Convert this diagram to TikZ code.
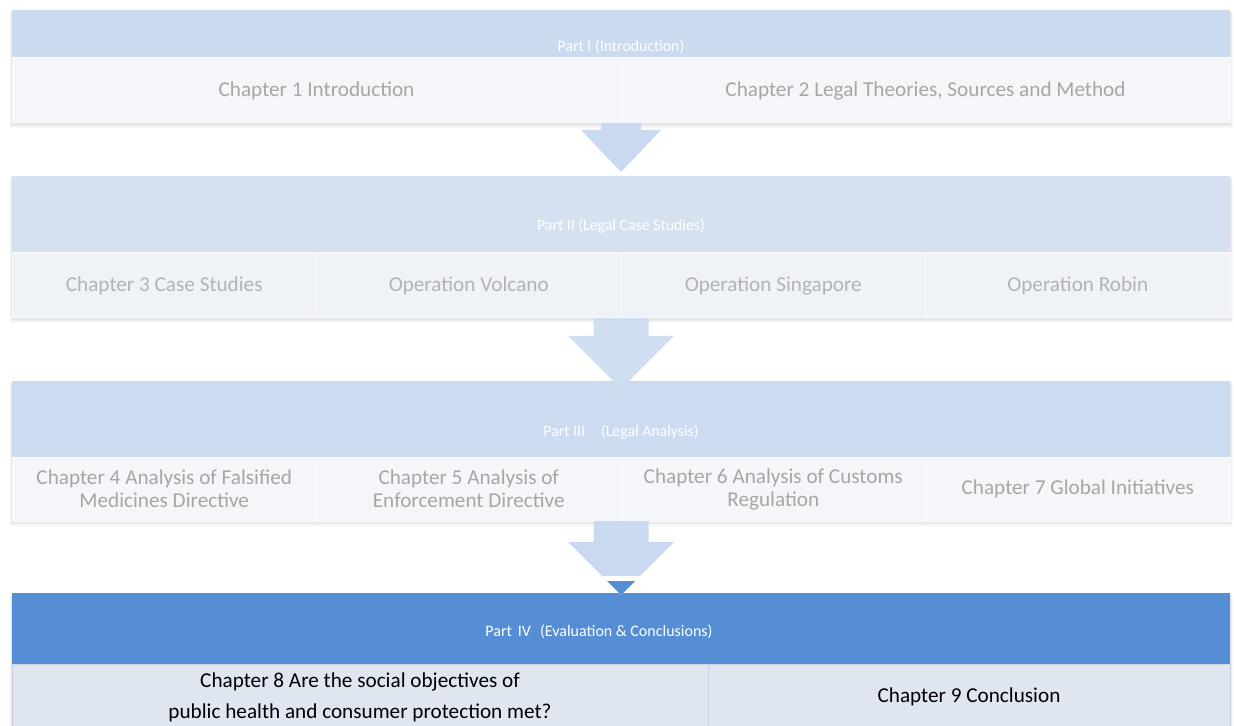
\documentclass[tikz,border=0pt]{standalone}
\usepackage{fontspec}
\setmainfont{Carlito}
\usetikzlibrary{calc,chains,positioning,backgrounds}

\definecolor{headA}{HTML}{CADBF0}
\definecolor{headB}{HTML}{D5E1F1}
\definecolor{headC}{HTML}{CCDCF0}
\definecolor{headD}{HTML}{558ED5}
\definecolor{rowA}{HTML}{F4F6F9}
\definecolor{rowB}{HTML}{EFF3F8}
\definecolor{rowD}{HTML}{DFE6EF}
\definecolor{lineD}{HTML}{C9D3E2}
\definecolor{arrowfill}{HTML}{C9DAF0}
\definecolor{greytext}{HTML}{A6A6A6}

% block arrow: from, tip, half shaft, half head, head length
\newcommand\blockarrow[5]{($(#1)+(-#3,0)$) -- ($(#2)+(-#3,-#5)$)
    -- ($(#2)+(-#4,-#5)$) -- (#2) -- ($(#2)+(#4,-#5)$)
    -- ($(#2)+(#3,-#5)$) -- ($(#1)+(#3,0)$) -- cycle}

\begin{document}
\begin{tikzpicture}[x=0.5pt, y=-0.5pt,
node distance=0pt,
  head/.style = {rectangle, minimum width=609pt, anchor=north west,
                 inner sep=0pt, outer sep=0pt},% part bands
  cell/.style = {rectangle, draw=white!60!rowA, line width=.5pt, fill=rowA,
                 text=greytext, minimum height=32.5pt, inner sep=2pt,
                 outer sep=0pt, align=center,
                 font=\fontsize{10.6}{11.5}\selectfont},% chapter boxes
  half/.style = {cell, minimum width=304.5pt},
  quart/.style = {cell, minimum width=152.25pt},
  lbl/.style = {text=white, inner sep=0pt, font=\fontsize{7.9}{9}\selectfont},
  shade/.style = {fill=black, opacity=.025},
  arr/.style = {fill=arrowfill},
                    ]
\useasboundingbox (0,0) rectangle (1234,726);

% Part I
\node[head, fill=headA, minimum height=24pt] (p1) at (12,10) {};
\node[lbl] (l1) at ($(p1.south)+(0,-11)$) {Part I (Introduction)};
\begin{scope}[start chain=r1 going right]
\node[half, on chain, below right=0pt of p1.south west] {Chapter 1 Introduction};
\node[half, on chain] {Chapter 2 Legal Theories, Sources and Method};
\end{scope}

% Part II
\node[head, fill=headB, minimum height=38.5pt] (p2) at (12,176) {};
\node[lbl] (l2) at ($(p2.south)+(0,-27)$) {Part II (Legal Case Studies)};
\begin{scope}[start chain=r2 going right]
\node[quart, fill=rowB, text=greytext!85, on chain,
      below right=0pt of p2.south west] {Chapter 3 Case Studies};
\foreach \t in {Operation Volcano,Operation Singapore,Operation Robin}
    \node[quart, fill=rowB, text=greytext!85, on chain] {\t};
\end{scope}

% Part III
\node[head, fill=headC, minimum height=38pt] (p3) at (12,381) {};
\node[lbl] (l3) at ($(p3.south)+(0,-25)$) {Part III\hspace{8pt}(Legal Analysis)};
\begin{scope}[start chain=r3 going right]
\node[quart, minimum height=32pt, on chain,
      below right=0pt of p3.south west] {Chapter 4 Analysis of Falsified\\Medicines Directive};
\foreach \t in {Chapter 5 Analysis of\\Enforcement Directive,
                Chapter 6 Analysis of Customs\\Regulation,
                Chapter 7 Global Initiatives}
    \node[quart, minimum height=32pt, on chain] {\t};
\end{scope}

% Part IV
\node[head, fill=headD, minimum height=35.5pt] (p4) at (12,593) {};
\node[lbl, font=\fontsize{8}{9}\selectfont] (l4) at ($(p4.south)+(-22,-32)$)
    {Part\hspace{3pt}IV\hspace{4.5pt}(Evaluation \& Conclusions)};
\begin{scope}[start chain=r4 going right]
\node[cell, fill=rowD, draw=lineD, text=black, minimum width=348pt,
      minimum height=33pt, font=\fontsize{10.6}{15.5}\selectfont, on chain,
      below right=0pt of p4.south west]
    {Chapter 8 Are the social objectives of\\public health and consumer protection met?};
\node[cell, fill=rowD, draw=lineD, text=black, minimum width=261pt,
      minimum height=33pt, on chain] {Chapter 9 Conclusion};
\end{scope}

% soft shadows
\begin{scope}[on background layer]
\foreach \a/\b in {p1/r1-2,p2/r2-4,p3/r3-4,p4/r4-2}
    \foreach \d in {1,2,3,4,5}
        \fill[shade] ($(\a.north west)+(-\d/2,\d/2)$) rectangle ($(\b.south east)+(\d/2,\d)$);
\end{scope}

% arrows between the parts
\coordinate (s1) at (p1.south |- r1-1.south);
\coordinate (t1) at ($(p2.north)+(0,-4)$);
\coordinate (s2) at (p2.south |- r2-1.south);
\coordinate (t2) at ($(p3.north)+(0,8)$);
\coordinate (s3) at (p3.south |- r3-1.south);
\coordinate (t3) at ($(p4.north)+(0,2)$);
\fill[arr] \blockarrow{s1}{t1}{20}{40}{42};
\fill[arr, fill=headC!95!white] \blockarrow{s2}{t2}{27.5}{53}{53};
\fill[arr] \blockarrow{s3}{t3}{27.5}{53}{53};
\begin{scope}
\clip \blockarrow{s3}{t3}{27.5}{53}{53};
\fill[white] ($(t3)+(-60,-19)$) rectangle ($(t3)+(60,-14)$);
\fill[headD] ($(t3)+(-60,-14)$) rectangle ($(t3)+(60,1)$);
\end{scope}
\end{tikzpicture}
\end{document}
